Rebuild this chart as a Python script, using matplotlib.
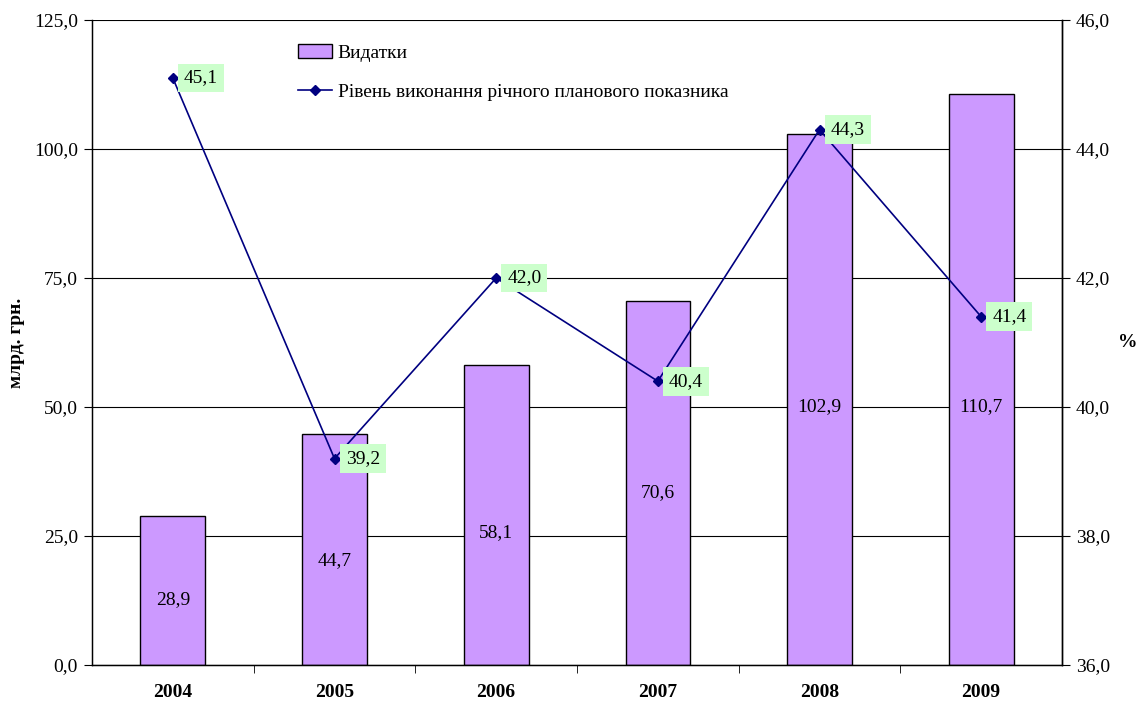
import matplotlib
matplotlib.use("Agg")
import matplotlib.pyplot as plt
from matplotlib.ticker import FuncFormatter, FixedLocator
import numpy as np

years = ["2004", "2005", "2006", "2007", "2008", "2009"]
spending = [28.9, 44.7, 58.1, 70.6, 102.9, 110.7]
plan_level = [45.1, 39.2, 42.0, 40.4, 44.3, 41.4]

# label heights for bar value labels (layout only)
bar_label_y = [12.6, 20.3, 25.6, 33.5, 50.0, 50.0]

plt.rcParams['font.family'] = ['Liberation Serif', 'DejaVu Serif']
FS = 14

fig = plt.figure(figsize=(11.45, 7.04), dpi=100)
ax = fig.add_axes([92/1145, 39/704, 970/1145, 645/704])
ax2 = ax.twinx()

x = np.arange(len(years))
ax.bar(x, spending, width=0.4, color="#CC99FF", edgecolor="black", linewidth=1.0,
       label="Видатки", zorder=2)
for xi, v, ly in zip(x, spending, bar_label_y):
    ax.text(xi, ly, f"{v:.1f}".replace(".", ","), ha="center", va="center",
            fontsize=FS, zorder=3)

ax.set_xlim(-0.5, len(years) - 0.5)
ax.set_ylim(0, 125)
ax.set_yticks(np.arange(0, 126, 25))
fmt = FuncFormatter(lambda v, p: f"{v:.1f}".replace(".", ","))
ax.yaxis.set_major_formatter(fmt)
ax.grid(axis="y", color="black", linewidth=0.8, zorder=0)
ax.set_axisbelow(True)

ax.set_xticks(x)
ax.set_xticklabels(years, fontweight="bold", fontsize=FS)
ax.tick_params(axis="x", which="major", length=0, pad=14)
ax.xaxis.set_minor_locator(FixedLocator(np.arange(0.5, len(years) - 0.5, 1)))
ax.tick_params(axis="x", which="minor", length=6, direction="out", color="black")
ax.tick_params(axis="y", length=6, direction="out", labelsize=FS, pad=4)

ax.set_ylabel("млрд. грн.", fontweight="bold", fontsize=FS)
ax.yaxis.set_label_coords(-0.069, 0.5)

ax.spines["top"].set_visible(False)
ax2.spines["top"].set_visible(False)
for s in ["left", "bottom", "right"]:
    ax.spines[s].set_linewidth(1.0)
ax2.spines["right"].set_linewidth(1.0)

ax2.plot(x, plan_level, color="#000080", marker="D", markersize=5.5, linewidth=1.2,
         label="Рівень виконання річного планового показника", zorder=4)
for xi, v in zip(x, plan_level):
    ax2.annotate(f"{v:.1f}".replace(".", ","), (xi, v), xytext=(8, 0),
                 textcoords="offset points", ha="left", va="center", fontsize=FS,
                 bbox=dict(boxstyle="square,pad=0.3", facecolor="#CCFFCC", edgecolor="none"),
                 zorder=5)
ax2.set_ylim(36, 46)
ax2.set_yticks(np.arange(36, 46.1, 2))
ax2.yaxis.set_major_formatter(fmt)
ax2.tick_params(axis="y", length=6, direction="out", labelsize=FS, pad=4)
ax2.set_ylabel("%", fontweight="bold", fontsize=FS, rotation=0, va="center", ha="center")
ax2.yaxis.set_label_coords(1.068, 0.5)

h1, l1 = ax.get_legend_handles_labels()
h2, l2 = ax2.get_legend_handles_labels()
leg = ax2.legend(h1 + h2, l1 + l2, loc="upper left", bbox_to_anchor=(0.204, 0.975),
                 frameon=False, fontsize=FS, handlelength=1.75, labelspacing=1.1,
                 handletextpad=0.3, borderaxespad=0)

fig.savefig("out.png", dpi=100)
